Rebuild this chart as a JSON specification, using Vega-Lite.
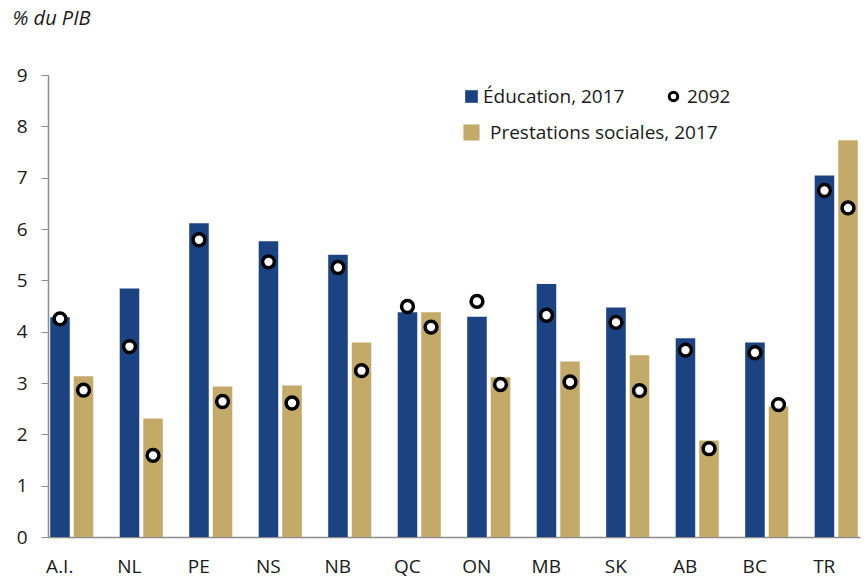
{
  "$schema": "https://vega.github.io/schema/vega-lite/v6.json",
  "width": 812,
  "height": 462,
  "autosize": "none",
  "padding": {"left": 48, "top": 75, "right": 4, "bottom": 43},
  "config": {
    "font": "Open Sans",
    "view": {"stroke": null},
    "axis": {"labelColor": "#1a1a1a", "titleColor": "#1a1a1a", "domainColor": "#8c8c8c", "tickColor": "#8c8c8c", "grid": false},
    "legend": {"labelColor": "#1a1a1a"}
  },
  "data": {
    "values": [
      {"cat": "A.I.", "serie": "Éducation, 2017", "v2017": 4.28, "v2092": 4.25},
      {"cat": "A.I.", "serie": "Prestations sociales, 2017", "v2017": 3.13, "v2092": 2.86},
      {"cat": "NL", "serie": "Éducation, 2017", "v2017": 4.84, "v2092": 3.71},
      {"cat": "NL", "serie": "Prestations sociales, 2017", "v2017": 2.31, "v2092": 1.59},
      {"cat": "PE", "serie": "Éducation, 2017", "v2017": 6.11, "v2092": 5.79},
      {"cat": "PE", "serie": "Prestations sociales, 2017", "v2017": 2.93, "v2092": 2.64},
      {"cat": "NS", "serie": "Éducation, 2017", "v2017": 5.76, "v2092": 5.36},
      {"cat": "NS", "serie": "Prestations sociales, 2017", "v2017": 2.95, "v2092": 2.61},
      {"cat": "NB", "serie": "Éducation, 2017", "v2017": 5.5, "v2092": 5.25},
      {"cat": "NB", "serie": "Prestations sociales, 2017", "v2017": 3.79, "v2092": 3.24},
      {"cat": "QC", "serie": "Éducation, 2017", "v2017": 4.38, "v2092": 4.49},
      {"cat": "QC", "serie": "Prestations sociales, 2017", "v2017": 4.38, "v2092": 4.09},
      {"cat": "ON", "serie": "Éducation, 2017", "v2017": 4.29, "v2092": 4.59},
      {"cat": "ON", "serie": "Prestations sociales, 2017", "v2017": 3.11, "v2092": 2.97},
      {"cat": "MB", "serie": "Éducation, 2017", "v2017": 4.93, "v2092": 4.32},
      {"cat": "MB", "serie": "Prestations sociales, 2017", "v2017": 3.42, "v2092": 3.02},
      {"cat": "SK", "serie": "Éducation, 2017", "v2017": 4.47, "v2092": 4.18},
      {"cat": "SK", "serie": "Prestations sociales, 2017", "v2017": 3.54, "v2092": 2.85},
      {"cat": "AB", "serie": "Éducation, 2017", "v2017": 3.87, "v2092": 3.64},
      {"cat": "AB", "serie": "Prestations sociales, 2017", "v2017": 1.88, "v2092": 1.72},
      {"cat": "BC", "serie": "Éducation, 2017", "v2017": 3.79, "v2092": 3.59},
      {"cat": "BC", "serie": "Prestations sociales, 2017", "v2017": 2.54, "v2092": 2.58},
      {"cat": "TR", "serie": "Éducation, 2017", "v2017": 7.04, "v2092": 6.75},
      {"cat": "TR", "serie": "Prestations sociales, 2017", "v2017": 7.73, "v2092": 6.41}
    ]
  },
  "encoding": {
    "x": {
      "field": "cat",
      "type": "nominal",
      "sort": null,
      "scale": {"paddingInner": 0.38, "paddingOuter": 0.032},
      "axis": {"title": null, "labelAngle": 0, "labelFontSize": 19, "labelOffset": -12, "ticks": false, "tickSize": 0, "labelPadding": 20, "domainWidth": 1.5}
    },
    "xOffset": {
      "field": "serie",
      "type": "nominal",
      "scale": {"domain": ["Éducation, 2017", "Prestations sociales, 2017"], "paddingInner": 0.17, "paddingOuter": 0}
    }
  },
  "layer": [
    {
      "mark": {"type": "bar"},
      "encoding": {
        "y": {
          "field": "v2017",
          "type": "quantitative",
          "scale": {"domain": [0, 9], "nice": false},
          "axis": {
            "values": [0, 1, 2, 3, 4, 5, 6, 7, 8, 9],
            "labelFontSize": 19,
            "tickSize": 7,
            "labelPadding": 14,
            "domainWidth": 1.5,
            "title": "% du PIB",
            "titleAngle": 0,
            "titleAlign": "left",
            "titleBaseline": "alphabetic",
            "titleFontStyle": "italic",
            "titleFontWeight": "normal",
            "titleFontSize": 20,
            "titleX": -36,
            "titleY": -51
          }
        },
        "color": {
          "field": "serie",
          "type": "nominal",
          "scale": {
            "domain": ["Éducation, 2017", "Prestations sociales, 2017", "2092"],
            "range": ["#1c4381", "#c4aa69", "#ffffff"]
          },
          "legend": {
            "title": null,
            "values": ["Éducation, 2017", "Prestations sociales, 2017", "2092"],
            "orient": "none",
            "legendX": 414,
            "legendY": 12,
            "padding": 0,
            "columns": 2,
            "gridAlign": "none",
            "columnPadding": -55,
            "rowPadding": 16,
            "symbolType": "square",
            "symbolSize": 160,
            "symbolOpacity": 1,
            "symbolStrokeWidth": 0,
            "labelFontSize": 19,
            "labelOffset": 2,
            "labelLimit": 400,
            "encode": {
              "symbols": {
                "update": {
                  "shape": {"signal": "datum.value === '2092' ? 'circle' : 'square'"},
                  "size": {"signal": "datum.value === '2092' ? 72 : (datum.value === 'Prestations sociales, 2017' ? 260 : 160)"},
                  "stroke": {"signal": "datum.value === '2092' ? '#000000' : 'transparent'"},
                  "strokeWidth": {"signal": "datum.value === '2092' ? 3 : 0"}
                }
              },
              "labels": {
                "update": {
                  "dx": {"signal": "datum.value === 'Prestations sociales, 2017' ? 7 : (datum.value === '2092' ? 2 : 0)"}
                }
              }
            }
          }
        }
      }
    },
    {
      "mark": {"type": "point", "shape": "circle", "filled": true, "fill": "#ffffff", "stroke": "#000000", "strokeWidth": 3.5, "size": 140, "opacity": 1},
      "encoding": {
        "y": {"field": "v2092", "type": "quantitative"}
      }
    }
  ]
}
